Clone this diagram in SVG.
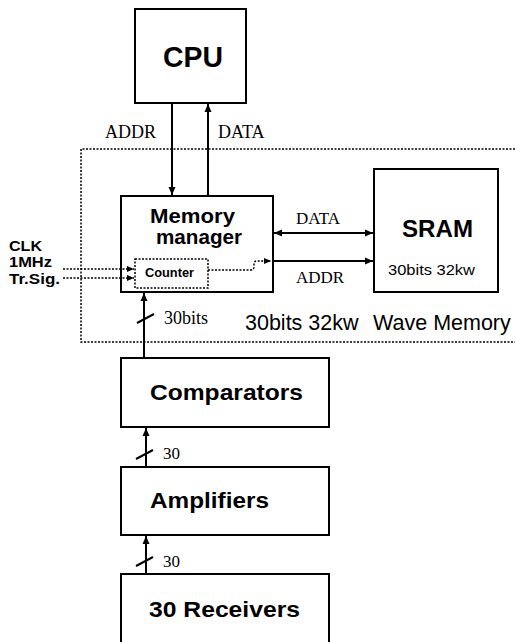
<svg xmlns="http://www.w3.org/2000/svg" width="515" height="642" viewBox="0 0 515 642">
<style>
.box{fill:#fff;stroke:#000;stroke-width:2}
.ln{fill:none;stroke:#000;stroke-width:2}
.dot{fill:none;stroke:#000;stroke-width:1.5;stroke-dasharray:2 1.5}
.b{font-family:"Liberation Sans",Arial,sans-serif;font-weight:bold;fill:#000}
.r{font-family:"Liberation Sans",Arial,sans-serif;fill:#000}
.s{font-family:"Liberation Serif","Times New Roman",serif;fill:#000}
</style>
<defs>
<marker id="ah" markerUnits="userSpaceOnUse" markerWidth="9" markerHeight="8" refX="8" refY="4" orient="auto-start-reverse">
<path d="M0,0.5 L8,4 L0,7.5 z" fill="#000"/>
</marker>
<marker id="ahs" markerUnits="userSpaceOnUse" markerWidth="8" markerHeight="7" refX="7" refY="3.5" orient="auto">
<path d="M0,0.5 L7,3.5 L0,6.5 z" fill="#000"/>
</marker>
</defs>
<rect width="515" height="642" fill="#fff"/>
<g id="wave-memory-region">
<path class="dot" d="M515,149 H81 V342 H515"/>
<text class="r" font-size="21.5"><tspan x="245" y="330">30bits 32kw</tspan><tspan x="373" y="330">Wave Memory</tspan></text>
</g>
<g id="cpu">
<rect class="box" x="135" y="9" width="111" height="94"/>
<text class="b" x="163" y="67" font-size="29" textLength="60" lengthAdjust="spacingAndGlyphs">CPU</text>
</g>
<g id="memory-manager">
<rect class="box" x="121" y="196" width="152" height="96"/>
<text class="b" x="150" y="223" font-size="21" textLength="85" lengthAdjust="spacingAndGlyphs">Memory</text>
<text class="b" x="156" y="244" font-size="21" textLength="86" lengthAdjust="spacingAndGlyphs">manager</text>
</g>
<g id="counter">
<rect class="dot" x="135" y="259" width="73" height="29"/>
<text class="b" x="145" y="277" font-size="13.5" textLength="49" lengthAdjust="spacingAndGlyphs">Counter</text>
</g>
<g id="sram">
<rect class="box" x="374" y="169" width="124" height="123"/>
<text class="b" x="402" y="237" font-size="23" textLength="71" lengthAdjust="spacingAndGlyphs">SRAM</text>
<text class="r" x="388" y="275" font-size="14.5" textLength="87" lengthAdjust="spacingAndGlyphs">30bits 32kw</text>
</g>
<g id="comparators">
<rect class="box" x="121" y="358" width="208" height="69"/>
<text class="b" x="150" y="400" font-size="22.5" textLength="153" lengthAdjust="spacingAndGlyphs">Comparators</text>
</g>
<g id="amplifiers">
<rect class="box" x="121" y="467" width="208" height="68"/>
<text class="b" x="150" y="508" font-size="22.5" textLength="119" lengthAdjust="spacingAndGlyphs">Amplifiers</text>
</g>
<g id="receivers">
<rect class="box" x="121" y="574" width="208" height="76"/>
<text class="b" x="149" y="617" font-size="22.5" textLength="151" lengthAdjust="spacingAndGlyphs">30 Receivers</text>
</g>
<g id="inputs">
<text class="b" x="9" y="251" font-size="14" textLength="33" lengthAdjust="spacingAndGlyphs">CLK</text>
<text class="b" x="9" y="267" font-size="14" textLength="43" lengthAdjust="spacingAndGlyphs">1MHz</text>
<text class="b" x="9" y="284" font-size="14" textLength="51" lengthAdjust="spacingAndGlyphs">Tr.Sig.</text>
</g>
<g id="connectors">
<line class="ln" x1="172" y1="103" x2="172" y2="195" marker-end="url(#ah)"/>
<line class="ln" x1="208" y1="196" x2="208" y2="104" marker-end="url(#ah)"/>
<text class="s" x="105" y="138" font-size="18">ADDR</text>
<text class="s" x="218" y="138" font-size="18">DATA</text>
<line class="ln" x1="274" y1="233" x2="373" y2="233" marker-start="url(#ah)" marker-end="url(#ah)"/>
<text class="s" x="296" y="224" font-size="17">DATA</text>
<line class="ln" x1="273" y1="261" x2="373" y2="261" marker-end="url(#ah)"/>
<text class="s" x="296" y="283" font-size="17">ADDR</text>
<path class="dot" d="M208,270 H251 Q254,270 254,266 V264 Q254,261 257,261 H271" marker-end="url(#ahs)"/>
<line class="dot" x1="63" y1="269" x2="134" y2="269" marker-end="url(#ahs)"/>
<line class="dot" x1="63" y1="278" x2="134" y2="278" marker-end="url(#ahs)"/>
<line class="ln" x1="144" y1="358" x2="144" y2="293" marker-end="url(#ah)"/>
<line class="ln" x1="137" y1="323" x2="154" y2="314"/>
<text class="s" x="164" y="324" font-size="18">30bits</text>
<line class="ln" x1="146" y1="467" x2="146" y2="428" marker-end="url(#ah)"/>
<line class="ln" x1="136" y1="459" x2="153" y2="450"/>
<text class="s" x="163" y="459" font-size="17">30</text>
<line class="ln" x1="146" y1="574" x2="146" y2="536" marker-end="url(#ah)"/>
<line class="ln" x1="136" y1="566" x2="153" y2="557"/>
<text class="s" x="163" y="567" font-size="17">30</text>
</g>
</svg>
